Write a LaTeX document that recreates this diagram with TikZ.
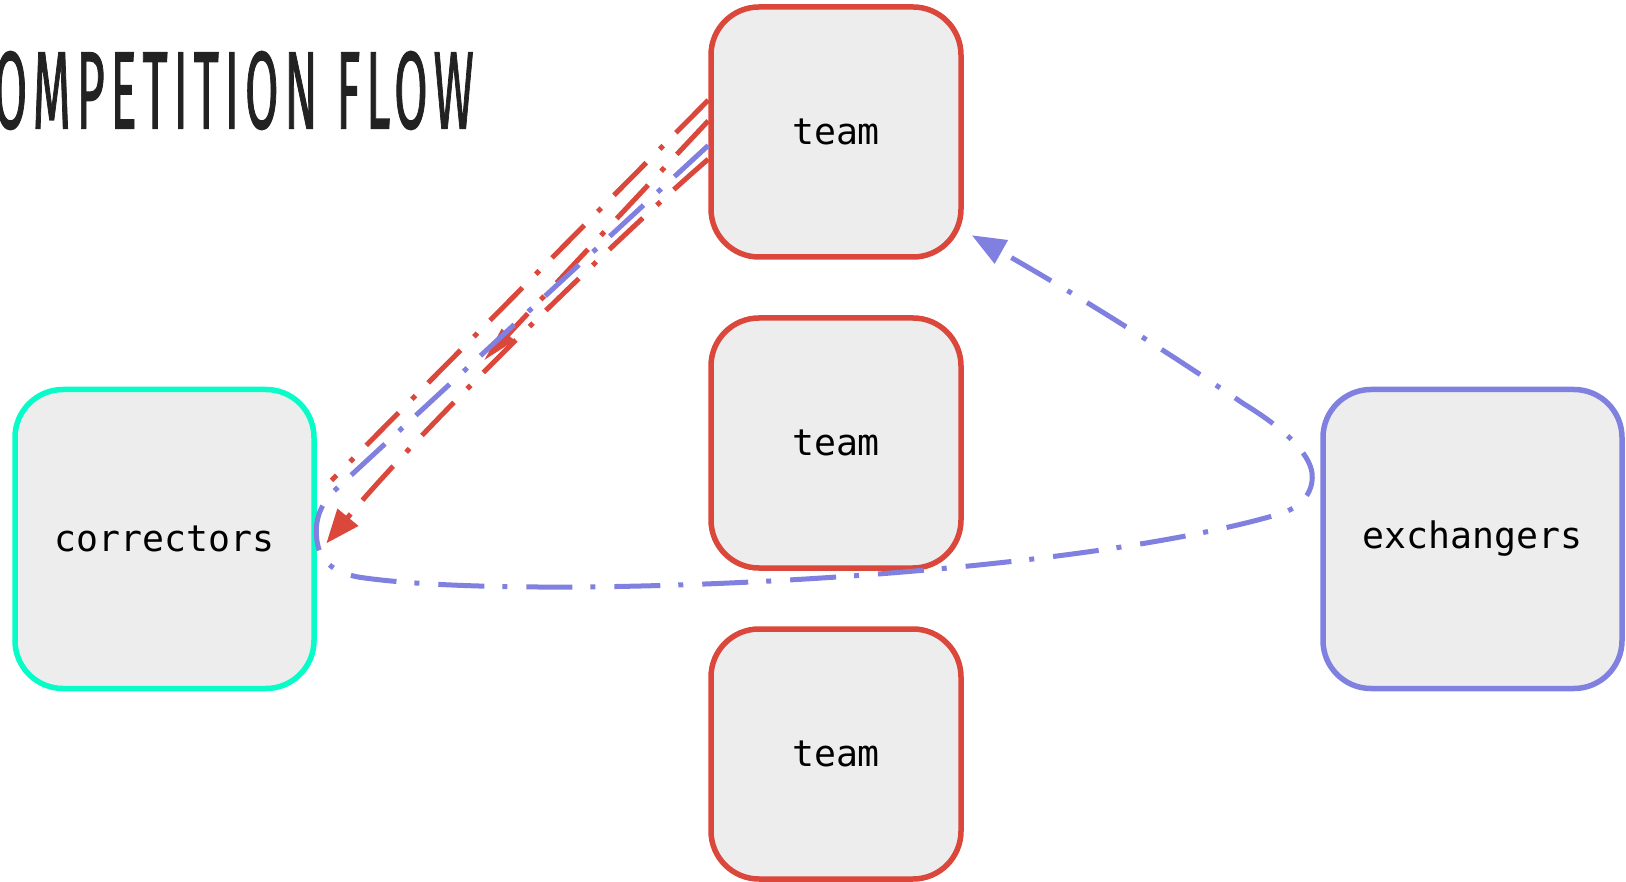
\documentclass[tikz,border=0pt]{standalone}
\usepackage{fontspec}
\usepackage{graphicx}
\setmonofont{DejaVu Sans Mono}
\newfontfamily\handfont[LetterSpace=12,FakeBold=1.5]{Fira Sans}
\usetikzlibrary{arrows.meta}

\definecolor{teamred}{RGB}{219,71,58}
\definecolor{judgegreen}{RGB}{8,252,200}
\definecolor{swappurple}{RGB}{128,128,224}
\definecolor{boxgray}{RGB}{237,237,237}
\definecolor{inkgray}{RGB}{34,34,34}

\tikzset{
  box/.style={rectangle, rounded corners=48pt, fill=boxgray, line width=5.5pt,
    minimum width=250pt, minimum height=250pt, inner sep=0pt,
    font=\ttfamily\fontsize{36.5pt}{40pt}\selectfont},
  team/.style={box, draw=teamred},
  bigbox/.style={box, minimum width=299pt, minimum height=299pt},
  flow/.style={line width=5pt, dash pattern=on 46pt off 18pt on 5pt off 19pt},
}

\begin{document}
\begin{tikzpicture}[
  x=1pt, y=-1pt,
  node distance=311pt,
  >={Triangle[length=34pt,width=26pt]}
]
\useasboundingbox (0,0) rectangle (1626,882);

% heading, its first letter runs off the page
\node[anchor=east, inner sep=0pt, text=inkgray] (title) at (474,90.5)
  {\resizebox{512pt}{77pt}{\handfont COMPETITION FLOW}};

\node[team] (team1) at (836,132) {team};
\node[team, below of=team1] (team2) {team};
\node[team, below of=team2] (team3) {team};
\node[bigbox, draw=judgegreen] (correctors) at (164.5,539) {correctors};
\node[bigbox, draw=swappurple] (exchangers) at (1472.5,539) {exchangers};

% submissions going to the correctors
\draw[flow, teamred, shorten >=21pt] (team1.166) -- (correctors.16);
\draw[flow, teamred, ->, >={Triangle[length=36pt,width=16pt]}, shorten >=244pt]
  (team1.175) -- (correctors.east);
\draw[flow, teamred, ->, shorten >=15pt]
  (team1.192) .. controls (620,235) and (420,430) .. (correctors.354);

% round trip through the exchangers
\draw[flow, swappurple, ->] (team1.186) -- (334,491)
  .. controls (318,507) and (315,523) .. (correctors.east)
  .. controls (319,560) and (332,572) .. (358,577)
  .. controls (520,602) and (1050,580) .. (1276,515)
  .. controls (1296,510) and (1312,497) .. ([xshift=-8pt]exchangers.158)
  .. controls (1313,458) and (1290,432) .. (1244,404)
  .. controls (1150,340) and (1060,285) .. ([xshift=8pt,yshift=-7pt]team1.323);

\end{tikzpicture}
\end{document}
